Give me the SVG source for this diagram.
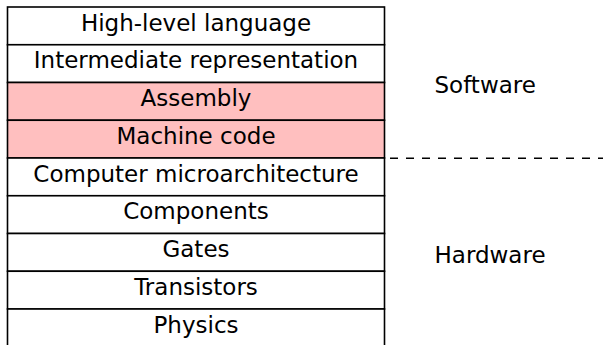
<svg xmlns="http://www.w3.org/2000/svg" width="603" height="345" viewBox="0 0 603 345">
<style>
.row rect{stroke:#000;stroke-width:1.6;fill:#fff}
.row.hl rect{fill:#ffbfbf}
text{font-family:"DejaVu Sans",sans-serif;font-size:23px;fill:#000}
.row text{text-anchor:middle}
</style>
<rect width="603" height="345" fill="#fff"/>
<g id="r1" class="row"><rect x="7.5" y="7" width="377" height="37.75"/><text x="196" y="30.6">High-level language</text></g>
<g id="r2" class="row"><rect x="7.5" y="44.75" width="377" height="37.75"/><text x="196" y="68.35">Intermediate representation</text></g>
<g id="r3" class="row hl"><rect x="7.5" y="82.5" width="377" height="37.75"/><text x="196" y="106.1">Assembly</text></g>
<g id="r4" class="row hl"><rect x="7.5" y="120.25" width="377" height="37.75"/><text x="196" y="143.85">Machine code</text></g>
<g id="r5" class="row"><rect x="7.5" y="158" width="377" height="37.75"/><text x="196" y="181.6">Computer microarchitecture</text></g>
<g id="r6" class="row"><rect x="7.5" y="195.75" width="377" height="37.75"/><text x="196" y="219.35">Components</text></g>
<g id="r7" class="row"><rect x="7.5" y="233.5" width="377" height="37.75"/><text x="196" y="257.1">Gates</text></g>
<g id="r8" class="row"><rect x="7.5" y="271.25" width="377" height="37.75"/><text x="196" y="294.85">Transistors</text></g>
<g id="r9" class="row"><rect x="7.5" y="309" width="377" height="37.75"/><text x="196" y="332.6">Physics</text></g>
<g id="connectors">
<line x1="390" y1="158.2" x2="603" y2="158.2" stroke="#000" stroke-width="1.6" stroke-dasharray="8 8"/>
</g>
<g id="software"><text x="434.5" y="92.7">Software</text></g>
<g id="hardware"><text x="434.5" y="262.7">Hardware</text></g>
</svg>
